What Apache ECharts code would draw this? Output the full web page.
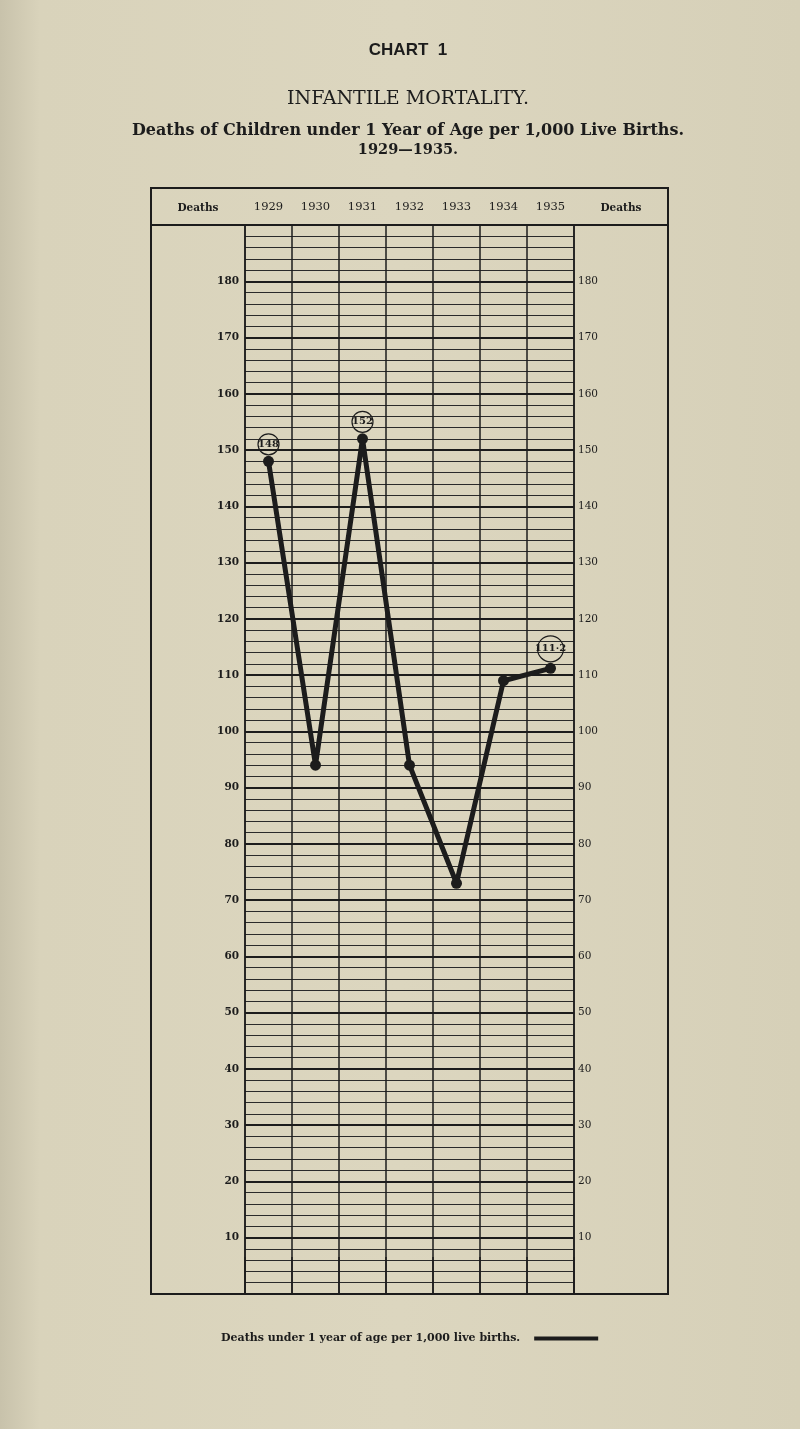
<!DOCTYPE html>
<html lang="en">
<head>
  <meta charset="UTF-8">
  <title>Infantile Mortality 1929-1935</title>
  <style>
    html, body { margin: 0; padding: 0; background: #dbd5bd; }
    #chart { width: 800px; height: 1429px; }
  </style>
  <script src="https://cdn.jsdelivr.net/npm/echarts@6/dist/echarts.min.js"></script>
</head>
<body>
<div id="chart"></div>
<script>
  // data
  const years = ['1929', '1930', '1931', '1932', '1933', '1934', '1935'];
  const deaths = [148, 94, 152, 94, 73, 109, 111.2];
  const pointLabels = ['148', '', '152', '', '', '', '111·2'];
  const seriesName = 'Deaths under 1 year of age per 1,000 live births.';

  const ink = '#1c1c1c';
  const serif = 'DejaVu Serif';
  const midX = 408; // the printed page is centred on the frame, not the window

  const chart = echarts.init(document.getElementById('chart'));

  const seriesData = deaths.map((v, i) => {
    const txt = pointLabels[i];
    if (!txt) return { value: v };
    const size = txt.length > 3 ? 26 : 21;
    return {
      value: v,
      label: {
        show: true,
        position: 'top',
        distance: 1,
        formatter: txt,
        width: size,
        height: size,
        lineHeight: size,
        align: 'center',
        borderColor: ink,
        borderWidth: 1.2,
        borderRadius: size / 2,
        fontFamily: serif,
        fontWeight: 'bold',
        fontSize: 10,
        color: ink
      }
    };
  });

  function heading(text, y, font) {
    return { type: 'text', x: midX, y: y,
      style: { text: text, fill: ink, font: font, textAlign: 'center', textVerticalAlign: 'middle' } };
  }

  chart.setOption({
    animation: false,
    backgroundColor: {
      type: 'linear', x: 0, y: 0, x2: 1, y2: 0,
      colorStops: [
        { offset: 0, color: '#c8c2ab' },
        { offset: 0.05, color: '#d9d3bb' },
        { offset: 0.5, color: '#dcd6bf' },
        { offset: 1, color: '#d6d0b8' }
      ]
    },
    legend: {
      data: [{ name: seriesName, icon: 'rect', itemStyle: { color: ink } }],
      left: 216,
      top: 1328,
      align: 'right',
      itemWidth: 64,
      itemHeight: 4,
      textStyle: { fontFamily: serif, fontWeight: 'bold', fontSize: 11, color: ink, padding: [0, 9, 0, 0] }
    },
    grid: { left: 245, right: 226, top: 225, bottom: 135 },
    xAxis: {
      type: 'category',
      position: 'top',
      data: years,
      boundaryGap: true,
      axisLine: { show: true, lineStyle: { color: ink, width: 2 } },
      axisTick: { show: true, length: 37, interval: 0, lineStyle: { color: ink, width: 1.5 } },
      axisLabel: { margin: 12, fontFamily: serif, fontSize: 11.5, color: ink },
      splitLine: { show: true, interval: 0, lineStyle: { color: ink, width: 1.5 } }
    },
    yAxis: [
      {
        type: 'value', position: 'left', min: 0, max: 190, interval: 10,
        axisLine: { show: true, lineStyle: { color: ink, width: 1.5 } },
        axisTick: { show: false },
        axisLabel: {
          margin: 6, fontFamily: serif, fontWeight: 'bold', fontSize: 10.5, color: ink,
          formatter: v => (v === 0 || v === 190) ? '' : String(v)
        },
        splitLine: { show: true, lineStyle: { color: ink, width: 1.9 } },
        minorTick: { show: false, splitNumber: 5 },
        minorSplitLine: { show: true, lineStyle: { color: '#2a2a2a', width: 1.1 } }
      },
      {
        type: 'value', position: 'right', min: 0, max: 190, interval: 10,
        axisLine: { show: true, lineStyle: { color: ink, width: 1.5 } },
        axisTick: { show: false },
        axisLabel: {
          margin: 4, fontFamily: serif, fontSize: 10.5, color: ink,
          formatter: v => (v === 0 || v === 190) ? '' : String(v)
        },
        splitLine: { show: false }
      }
    ],
    graphic: [
      heading('CHART  1', 50, 'bold 17px "Liberation Sans"'),
      heading('INFANTILE MORTALITY.', 99, '19px "DejaVu Serif"'),
      heading('Deaths of Children under 1 Year of Age per 1,000 Live Births.', 131, 'bold 16px "DejaVu Serif"'),
      heading('1929—1935.', 150, 'bold 14.5px "DejaVu Serif"'),
      { type: 'rect', shape: { x: 151, y: 188, width: 517, height: 1106 },
        style: { fill: 'none', stroke: ink, lineWidth: 2 }, z: 10 },
      { type: 'line', shape: { x1: 151, y1: 225, x2: 668, y2: 225 },
        style: { stroke: ink, lineWidth: 2 }, z: 10 },
      { type: 'text', x: 198, y: 208,
        style: { text: 'Deaths', fill: ink, font: 'bold 10.5px "DejaVu Serif"', textAlign: 'center', textVerticalAlign: 'middle' } },
      { type: 'text', x: 621, y: 208,
        style: { text: 'Deaths', fill: ink, font: 'bold 10.5px "DejaVu Serif"', textAlign: 'center', textVerticalAlign: 'middle' } }
    ],
    series: [{
      name: seriesName,
      type: 'line',
      data: seriesData,
      symbol: 'circle',
      symbolSize: 11,
      itemStyle: { color: ink },
      lineStyle: { color: ink, width: 5 },
      label: { show: false },
      z: 5
    }]
  });
</script>
</body>
</html>
